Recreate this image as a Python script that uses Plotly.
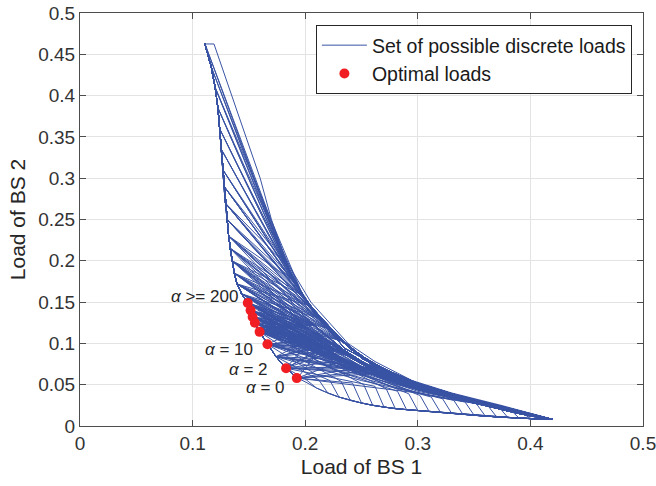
import plotly.graph_objects as go

# lower-left boundary of the set (apex -> optimal points -> bottom-right end)
bound_x = [0.111, 0.1165, 0.120, 0.1225, 0.124, 0.1255, 0.127, 0.128, 0.129, 0.1305,
           0.132, 0.1335, 0.135, 0.137, 0.1395, 0.1435, 0.149, 0.1515, 0.1533, 0.1553,
           0.1575, 0.1595, 0.1665, 0.174, 0.183, 0.193, 0.20, 0.21, 0.22, 0.23,
           0.24, 0.25, 0.26, 0.27, 0.28, 0.29, 0.30, 0.31, 0.32, 0.33,
           0.34, 0.35, 0.36, 0.37, 0.38, 0.39, 0.40, 0.41, 0.42]
bound_y = [0.4625, 0.435, 0.41, 0.385, 0.36, 0.335, 0.31, 0.29, 0.27, 0.25,
           0.23, 0.215, 0.20, 0.185, 0.172, 0.16, 0.149, 0.140, 0.132, 0.125,
           0.119, 0.114, 0.099, 0.084, 0.070, 0.058, 0.0535, 0.046, 0.040, 0.035,
           0.031, 0.0278, 0.025, 0.0228, 0.021, 0.0198, 0.0188, 0.0178, 0.0168, 0.0155,
           0.0143, 0.0130, 0.0119, 0.0110, 0.0102, 0.0095, 0.0089, 0.0084, 0.008]

# upper-right envelope
env_x = [0.111, 0.119, 0.16, 0.17, 0.183, 0.205, 0.238, 0.262, 0.295, 0.33, 0.374, 0.42]
env_y = [0.4625, 0.4625, 0.30, 0.25, 0.20, 0.15, 0.10, 0.078, 0.055, 0.04, 0.025, 0.008]

# knee paths: lines leave the boundary, meet at a knee, then run to the end
knee_x = [
    [0.183, 0.205, 0.235, 0.27, 0.31, 0.37, 0.42],
    [0.19, 0.215, 0.25, 0.29, 0.35, 0.42],
    [0.198, 0.225, 0.26, 0.30, 0.36, 0.41],
    [0.205, 0.24, 0.28, 0.33, 0.42],
    [0.208, 0.245, 0.285, 0.34, 0.42],
    [0.213, 0.25, 0.29, 0.34, 0.39, 0.42],
    [0.218, 0.255, 0.30, 0.36, 0.42],
    [0.222, 0.26, 0.31, 0.37, 0.42],
    [0.228, 0.265, 0.31, 0.38, 0.42],
    [0.232, 0.27, 0.32, 0.38, 0.42],
    [0.24, 0.28, 0.33, 0.39, 0.42],
    [0.25, 0.29, 0.34, 0.40, 0.42],
    [0.26, 0.30, 0.35, 0.41],
    [0.215, 0.25, 0.30, 0.37, 0.42],
    [0.235, 0.27, 0.32, 0.39, 0.42],
    [0.205, 0.24, 0.29, 0.35, 0.42],
    [0.245, 0.285, 0.33, 0.40, 0.42],
    [0.225, 0.26, 0.305, 0.36, 0.42],
    [0.20, 0.235, 0.275, 0.33, 0.42],
    [0.255, 0.295, 0.345, 0.41],
]
knee_y = [
    [0.195, 0.142, 0.094, 0.069, 0.046, 0.025, 0.008],
    [0.175, 0.125, 0.083, 0.056, 0.031, 0.008],
    [0.158, 0.11, 0.075, 0.05, 0.028, 0.011],
    [0.145, 0.093, 0.061, 0.038, 0.008],
    [0.122, 0.08, 0.054, 0.032, 0.008],
    [0.13, 0.082, 0.055, 0.034, 0.017, 0.008],
    [0.105, 0.071, 0.047, 0.026, 0.008],
    [0.117, 0.073, 0.046, 0.025, 0.008],
    [0.092, 0.064, 0.043, 0.018, 0.008],
    [0.103, 0.066, 0.041, 0.021, 0.008],
    [0.085, 0.058, 0.036, 0.018, 0.008],
    [0.072, 0.052, 0.033, 0.013, 0.008],
    [0.063, 0.045, 0.029, 0.010],
    [0.095, 0.068, 0.044, 0.022, 0.008],
    [0.08, 0.06, 0.038, 0.015, 0.008],
    [0.105, 0.076, 0.05, 0.029, 0.008],
    [0.07, 0.05, 0.034, 0.012, 0.008],
    [0.10, 0.07, 0.046, 0.027, 0.008],
    [0.12, 0.088, 0.06, 0.036, 0.008],
    [0.066, 0.047, 0.03, 0.01],
]
# boundary indices feeding each knee
knee_peels = [
    [0, 1, 2, 3, 4, 5, 6, 7, 8],
    [0, 1, 2, 3, 4, 5, 6, 7, 8, 9, 10],
    [2, 3, 4, 5, 6, 7, 8, 9, 10, 11, 12],
    [6, 7, 8, 9, 10, 11, 12, 13, 14],
    [10, 11, 12, 13, 14, 15, 16, 17, 18, 19, 20],
    [7, 8, 9, 10, 11, 12, 13, 14, 15],
    [12, 13, 14, 15, 16, 17, 18, 19, 20, 21, 22],
    [8, 9, 10, 11, 12, 13, 14, 15, 16],
    [14, 15, 16, 17, 18, 19, 20, 21, 22, 23, 24],
    [9, 10, 11, 12, 13, 14, 15, 16, 17, 18],
    [12, 14, 16, 17, 18, 19, 20, 21, 22],
    [15, 16, 18, 19, 20, 21, 22, 23, 24],
    [17, 19, 20, 21, 22, 23, 24, 25],
    [16, 17, 18, 19, 20, 21, 22, 23, 24, 25],
    [16, 17, 18, 19, 20, 21, 22, 23, 24, 25],
    [15, 16, 17, 18, 19, 20, 21, 22, 23, 24],
    [18, 19, 20, 21, 22, 23, 24, 25],
    [13, 14, 15, 16, 17, 18, 19, 20, 21, 22, 23, 24],
    [11, 12, 13, 14, 15, 16, 17, 18, 19, 20, 21, 22],
    [19, 20, 21, 22, 23, 24, 25],
]

# curves leaving near the optimal points, dropping back onto the boundary
mid_peel = [16, 17, 18, 19, 20, 21, 22, 23, 24, 25,
            16, 18, 20, 22, 17, 19, 21, 23, 24, 25]
mid_join = [36, 34, 40, 32, 42, 30, 38, 28, 33, 31,
            44, 43, 35, 29, 39, 37, 45, 41, 27, 46]
mid_tail_x = [
    [0.20, 0.25, 0.292], [0.215, 0.272], [0.22, 0.28, 0.332], [0.21, 0.252],
    [0.23, 0.30, 0.352], [0.20, 0.232], [0.24, 0.312], [0.212], [0.262], [0.242],
    [0.23, 0.29, 0.372], [0.24, 0.30, 0.362], [0.225, 0.282], [0.21, 0.222],
    [0.23, 0.29, 0.322], [0.235, 0.302], [0.24, 0.31, 0.382], [0.25, 0.31, 0.342],
    [0.2], [0.3, 0.392],
]
mid_tail_y = [
    [0.1, 0.062, 0.039], [0.085, 0.045], [0.08, 0.046, 0.031], [0.08, 0.05],
    [0.072, 0.04, 0.027], [0.078, 0.054], [0.062, 0.035], [0.056], [0.048], [0.052],
    [0.085, 0.048, 0.023], [0.07, 0.042, 0.025], [0.068, 0.042], [0.062, 0.055],
    [0.08, 0.044, 0.033], [0.072, 0.037], [0.065, 0.04, 0.02], [0.055, 0.037, 0.029],
    [0.057], [0.04, 0.017],
]

# optimal loads
opt_x = [0.149, 0.1515, 0.1533, 0.1553, 0.1595, 0.1665, 0.183, 0.1925]
opt_y = [0.149, 0.140, 0.132, 0.125, 0.114, 0.099, 0.070, 0.058]

# alpha labels
lab_text = ['<i>α</i> >= 200', '<i>α</i> = 10', '<i>α</i> = 2', '<i>α</i> = 0']
lab_x = [0.1417, 0.155, 0.169, 0.1836]
lab_y = [0.157, 0.093, 0.069, 0.047]

# build the set of lines as one trace
xs = bound_x + [None] + env_x + [None]
ys = bound_y + [None] + env_y + [None]
for kx, ky, peels in zip(knee_x, knee_y, knee_peels):
    for p in peels:
        xs += bound_x[:p + 1] + kx + [None]
        ys += bound_y[:p + 1] + ky + [None]
for p, tx, ty, j in zip(mid_peel, mid_tail_x, mid_tail_y, mid_join):
    xs += bound_x[:p + 1] + tx + bound_x[j:] + [None]
    ys += bound_y[:p + 1] + ty + bound_y[j:] + [None]

font = 'Liberation Sans, Arial, Helvetica, sans-serif'
blue = 'rgb(57,83,164)'

fig = go.Figure()
fig.add_trace(go.Scatter(x=xs, y=ys, mode='lines', name='Set of possible discrete loads',
                         line=dict(color=blue, width=1), connectgaps=False))
fig.add_trace(go.Scatter(x=opt_x, y=opt_y, mode='markers', name='Optimal loads',
                         marker=dict(color='rgb(240,30,35)', size=10)))

for t, x, y in zip(lab_text, lab_x, lab_y):
    fig.add_annotation(x=x, y=y, text=t, showarrow=False, xanchor='right', yanchor='middle',
                       font=dict(size=17, color='#262626', family=font))

axis_style = dict(showgrid=True, gridcolor='#E3E3E3', gridwidth=1, zeroline=False,
                  showline=True, linecolor='#4D4D4D', linewidth=1, mirror='ticks',
                  ticks='inside', ticklen=6, tickcolor='#4D4D4D', automargin=False,
                  ticklabeloverflow='allow',
                  tickfont=dict(size=19, color='#333333', family=font))

fig.update_xaxes(range=[0, 0.5], tick0=0, dtick=0.1,
                 title=dict(text='Load of BS 1', font=dict(size=21, color='#262626', family=font),
                            standoff=6),
                 **axis_style)
fig.update_yaxes(range=[0, 0.5], tick0=0, dtick=0.05,
                 title=dict(text='Load of BS 2', font=dict(size=21, color='#262626', family=font),
                            standoff=6),
                 **axis_style)

fig.update_layout(
    width=656, height=486,
    margin=dict(l=80, r=13, t=13, b=60),
    plot_bgcolor='white', paper_bgcolor='white',
    font=dict(family=font, color='#262626'),
    legend=dict(x=0.419, y=0.971, xanchor='left', yanchor='top',
                bgcolor='white', bordercolor='#262626', borderwidth=1,
                font=dict(size=19.5, color='#1a1a1a', family=font),
                itemwidth=45, tracegroupgap=0),
    showlegend=True,
)

# drop the default page margin so the figure sits at the window corner
fig.write_html("out.html", config={'displayModeBar': False},
               post_script="document.body.style.margin='0';")
